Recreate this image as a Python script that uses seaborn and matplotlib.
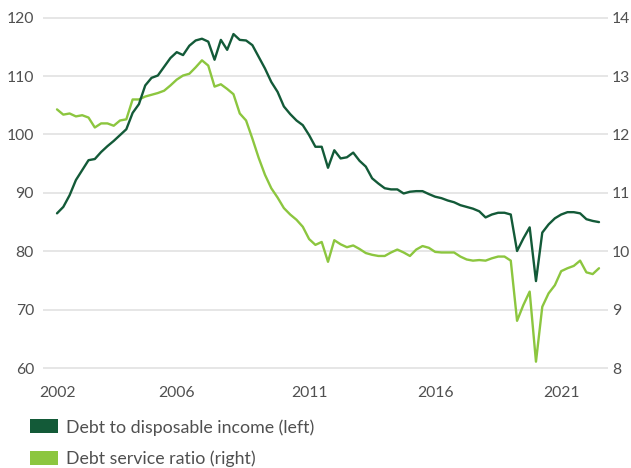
import matplotlib
matplotlib.use("Agg")
import matplotlib.pyplot as plt
from matplotlib.patches import Patch
import pandas as pd
import seaborn as sns

# Quarterly observations, first quarter of 2002 onwards
debt_to_income = [
    86.5, 87.6, 89.6, 92.2, 93.9, 95.6, 95.8, 97.0, 98.0, 98.9,
    99.9, 100.9, 103.7, 105.2, 108.4, 109.7, 110.1, 111.6, 113.1, 114.1,
    113.6, 115.2, 116.1, 116.4, 115.9, 112.8, 116.2, 114.5, 117.2, 116.2,
    116.1, 115.3, 113.3, 111.3, 109.0, 107.3, 104.8, 103.5, 102.4, 101.6,
    99.9, 97.9, 97.9, 94.3, 97.3, 95.9, 96.1, 96.9, 95.5, 94.5,
    92.5, 91.6, 90.8, 90.6, 90.6, 89.9, 90.2, 90.3, 90.3, 89.8,
    89.35, 89.1, 88.7, 88.4, 87.9, 87.6, 87.3, 86.85, 85.8, 86.3,
    86.6, 86.6, 86.3, 80.05, 82.2, 84.1, 74.9, 83.2, 84.6, 85.65,
    86.3, 86.7, 86.7, 86.5, 85.5, 85.2, 85.0,
]
debt_service_ratio = [
    12.43, 12.34, 12.36, 12.31, 12.33, 12.29, 12.12, 12.19, 12.19, 12.15,
    12.24, 12.26, 12.60, 12.60, 12.65, 12.68, 12.71, 12.75, 12.84, 12.94,
    13.01, 13.04, 13.15, 13.27, 13.18, 12.82, 12.86, 12.78, 12.69, 12.36,
    12.24, 11.93, 11.60, 11.31, 11.08, 10.92, 10.74, 10.63, 10.54, 10.42,
    10.21, 10.11, 10.16, 9.82, 10.19, 10.12, 10.07, 10.10, 10.04, 9.97,
    9.94, 9.92, 9.92, 9.98, 10.03, 9.98, 9.92, 10.03, 10.09, 10.06,
    9.99, 9.98, 9.98, 9.98, 9.91, 9.86, 9.84, 9.85, 9.84, 9.88,
    9.91, 9.91, 9.84, 8.81, 9.08, 9.31, 8.11, 9.05, 9.28, 9.42,
    9.66, 9.71, 9.75, 9.84, 9.64, 9.61, 9.71,
]
year_tick_positions = [0, 19, 40, 60, 80]
year_tick_labels = ["2002", "2006", "2011", "2016", "2021"]
left_ticks = [60, 70, 80, 90, 100, 110, 120]
right_ticks = [8, 9, 10, 11, 12, 13, 14]

label_left = "Debt to disposable income (left)"
label_right = "Debt service ratio (right)"

df = pd.DataFrame({
    "quarter": range(len(debt_to_income)),
    "debt_to_income": debt_to_income,
    "debt_service_ratio": debt_service_ratio,
})

DARK = "#135a38"
LIGHT = "#8cc63f"
GRID = "#e1e1e1"
TEXT = "#505050"

sns.set_theme(style="white")
plt.rcParams["font.family"] = ["Lato", "DejaVu Sans"]

W, H = 631, 468
fig = plt.figure(figsize=(W / 100, H / 100), dpi=100)
ax_left_px, ax_right_px = 43, 608
ax_top_px, ax_bot_px = 10, 375
ax = fig.add_axes([ax_left_px / W, 1 - ax_bot_px / H,
                   (ax_right_px - ax_left_px) / W, (ax_bot_px - ax_top_px) / H])
ax2 = ax.twinx()

sns.lineplot(data=df, x="quarter", y="debt_service_ratio", ax=ax2,
             color=LIGHT, linewidth=1.7)
sns.lineplot(data=df, x="quarter", y="debt_to_income", ax=ax,
             color=DARK, linewidth=1.7)

# Put the left-axis series on top of the twin axis
ax.set_zorder(ax2.get_zorder() + 1)
ax.patch.set_visible(False)

px_per_unit = 58.4 / 10
ylo = 60 - (ax_bot_px - 368.1) / px_per_unit
yhi = 120 + (17.7 - ax_top_px) / px_per_unit
ax.set_ylim(ylo, yhi)
ax2.set_ylim(8 + (ylo - 60) / 10, 8 + (yhi - 60) / 10)

px_per_q = 6.3
ax.set_xlim(-(57 - ax_left_px) / px_per_q, 86 + (ax_right_px - 599) / px_per_q)

ax.set_yticks(left_ticks)
ax.set_yticklabels([str(t) for t in left_ticks])
ax2.set_yticks(right_ticks)
ax2.set_yticklabels([str(t) for t in right_ticks])
ax.set_xticks(year_tick_positions)
ax.set_xticklabels(year_tick_labels)

for t in left_ticks:
    ax2.axhline(8 + (t - 60) / 10, color=GRID, linewidth=1.2, zorder=0)

for a in (ax, ax2):
    a.set_xlabel("")
    a.set_ylabel("")
    for s in a.spines.values():
        s.set_visible(False)
    a.grid(False)
ax.tick_params(axis="y", length=0, pad=6.5, labelsize=11.3, labelcolor=TEXT)
ax.tick_params(axis="x", length=0, pad=8, labelsize=11.3, labelcolor=TEXT)
ax2.tick_params(axis="y", length=0, pad=3, labelsize=11.3, labelcolor=TEXT)

handles = [Patch(facecolor=DARK, edgecolor="none", label=label_left),
           Patch(facecolor=LIGHT, edgecolor="none", label=label_right)]
fig.legend(handles=handles, loc="upper left", bbox_to_anchor=(30 / W, 1 - 419 / H),
           frameon=False, fontsize=12.8, labelcolor=TEXT, borderpad=0,
           handlelength=1.59, handleheight=0.82, handletextpad=0.45,
           labelspacing=0.85, borderaxespad=0)

fig.savefig("out.png", dpi=100)
